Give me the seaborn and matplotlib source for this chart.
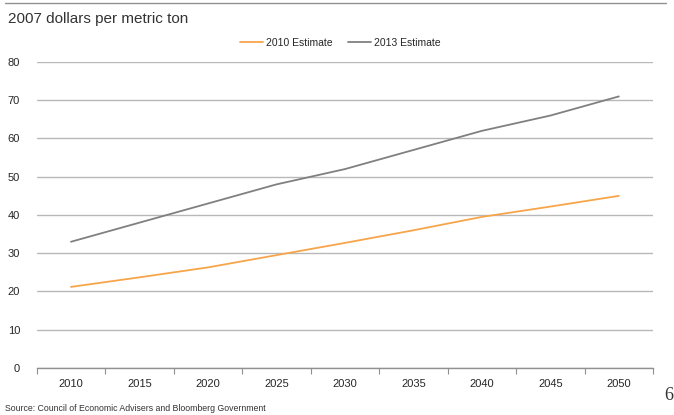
import matplotlib
matplotlib.use("Agg")
import matplotlib.pyplot as plt
import seaborn as sns
import pandas as pd
import numpy as np

years = [2010, 2015, 2020, 2025, 2030, 2035, 2040, 2045, 2050]
est_2010 = [21.2, 23.7, 26.3, 29.5, 32.7, 36.0, 39.5, 42.2, 45.0]
est_2013 = [33.0, 38.0, 43.0, 48.0, 52.0, 57.0, 62.0, 66.0, 71.0]
series_names = ["2010 Estimate", "2013 Estimate"]
y_ticks = [0, 10, 20, 30, 40, 50, 60, 70, 80]

df = pd.DataFrame({
    "year": years * 2,
    "value": est_2010 + est_2013,
    "series": [series_names[0]] * len(years) + [series_names[1]] * len(years),
})

sns.set_theme(style="white")
plt.rcParams['font.family'] = ['Liberation Sans Narrow', 'Liberation Sans', 'DejaVu Sans']

fig = plt.figure(figsize=(6.74, 4.15), dpi=100)
ax = fig.add_axes([0.0545, 0.1133, 0.9145, 0.7373])

palette = {series_names[0]: "#F7A54A", series_names[1]: "#808080"}
sns.lineplot(data=df, x="year", y="value", hue="series", palette=palette,
             linewidth=1.3, ax=ax, legend=False)

ax.set_xlim(2007.5, 2052.5)
ax.set_ylim(0, 80)
ax.set_yticks(y_ticks)
ax.set_yticklabels([str(t) for t in y_ticks], fontsize=8)
ax.set_xticks(years)
ax.set_xticklabels([str(y) for y in years], fontsize=8)
ax.set_xticks([2007.5 + 5 * i for i in range(10)], minor=True)
ax.tick_params(axis='x', which='major', length=0, pad=8)
ax.tick_params(axis='x', which='minor', length=4, color="#909090", width=0.8, direction='out', bottom=True)
ax.tick_params(axis='y', length=0, pad=12)
ax.set_xlabel("")
ax.set_ylabel("")
ax.yaxis.grid(True, color="#B8B8B8", linewidth=1.0)
ax.set_axisbelow(True)
for s in ["left", "right", "top"]:
    ax.spines[s].set_visible(False)
ax.spines["bottom"].set_color("#909090")
ax.spines["bottom"].set_linewidth(1.0)

# legend
from matplotlib.lines import Line2D
handles = [Line2D([0], [0], color=palette[n], lw=1.3) for n in series_names]
fig.legend(handles, series_names, loc="center", bbox_to_anchor=(0.505, 0.897),
           ncol=2, frameon=False, fontsize=7.5, handlelength=2.2, handletextpad=0.3,
           columnspacing=1.5)

# top rule
fig.add_artist(Line2D([0.008, 0.988], [0.993, 0.993], color="#909090", lw=1.0,
                      transform=fig.transFigure))

fig.text(0.012, 0.955, "2007 dollars per metric ton", fontsize=11, color="#333333",
         va="center", ha="left", family=['Liberation Sans', 'DejaVu Sans'])
fig.text(0.008, 0.015, "Source: Council of Economic Advisers and Bloomberg Government",
         fontsize=6.3, color="#333333", va="center", ha="left")
fig.text(0.986, 0.048, "6", fontsize=13, color="#333333", va="center", ha="left",
         family=['Liberation Serif', 'DejaVu Serif'])

fig.savefig("out.png", dpi=100)
